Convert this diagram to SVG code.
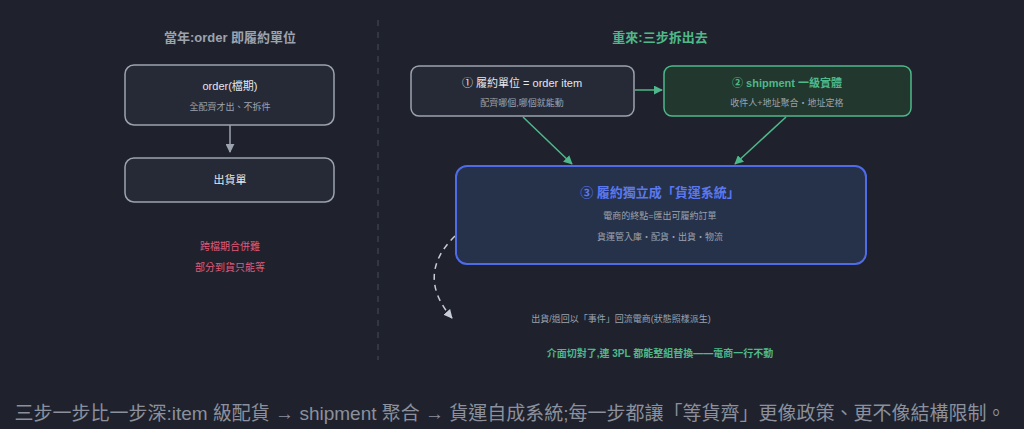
<svg xmlns="http://www.w3.org/2000/svg" width="1024" height="429" viewBox="0 0 1024 429">
<style>
text{font-family:"Liberation Sans","Noto Sans CJK TC",sans-serif;text-anchor:middle}
.t{font-size:11px;fill:#e5e7eb}
.s{font-size:9px;fill:#9ca3af}
.h{font-size:13px;font-weight:bold}
</style>
<defs>
<marker id="ag" viewBox="0 0 10 10" refX="9" refY="5" markerWidth="6" markerHeight="6" orient="auto"><path d="M0 0L10 5L0 10z" fill="#4fb88a"/></marker>
<marker id="aw" viewBox="0 0 10 10" refX="9" refY="5" markerWidth="6" markerHeight="6" orient="auto"><path d="M0 0L10 5L0 10z" fill="#9ca3af"/></marker>
<marker id="ad" viewBox="0 0 10 10" refX="9" refY="5" markerWidth="6" markerHeight="6" orient="auto"><path d="M0 0L10 5L0 10z" fill="#c8ccd4"/></marker>
</defs>
<rect width="1024" height="429" fill="#1f222d"/>
<line x1="378" y1="20" x2="378" y2="360" stroke="#3a3f4c" stroke-width="1.5" stroke-dasharray="6 6"/>
<text x="230" y="42" class="h" fill="#9ca3af">當年:order 即履約單位</text>
<text x="660" y="42" class="h" fill="#4fb88a">重來:三步拆出去</text>
<g id="connectors">
<line x1="230" y1="125" x2="230" y2="152" stroke="#9ca3af" stroke-width="1.5" marker-end="url(#aw)"/>
<line x1="635" y1="90" x2="662" y2="90" stroke="#4fb88a" stroke-width="1.5" marker-end="url(#ag)"/>
<line x1="523" y1="117" x2="572" y2="164" stroke="#4fb88a" stroke-width="1.5" marker-end="url(#ag)"/>
<line x1="786" y1="117" x2="735" y2="164" stroke="#4fb88a" stroke-width="1.5" marker-end="url(#ag)"/>
<path d="M455 236 Q415 275 452 318" fill="none" stroke="#c8ccd4" stroke-width="1.5" stroke-dasharray="6 5" marker-end="url(#ad)"/>
</g>
<g id="order"><rect x="125" y="65" width="209" height="60" rx="9" fill="#262a37" stroke="#9ca3af" stroke-width="1.5"/>
<text x="230" y="90" class="t">order(檔期)</text><text x="230" y="110" class="s">全配齊才出、不拆件</text></g>
<g id="ship-old"><rect x="125" y="158" width="209" height="44" rx="9" fill="#262a37" stroke="#9ca3af" stroke-width="1.5"/>
<text x="230" y="184" class="t">出貨單</text></g>
<g id="pain"><text x="230" y="250" font-size="10" fill="#e05a7a">跨檔期合併難</text><text x="230" y="271" font-size="10" fill="#e05a7a">部分到貨只能等</text></g>
<g id="step1"><rect x="411" y="66" width="223" height="50" rx="8" fill="#262a37" stroke="#9ca3af" stroke-width="1.5"/>
<text x="522" y="87" class="t">① 履約單位 = order item</text><text x="522" y="106" class="s">配齊哪個,哪個就能動</text></g>
<g id="step2"><rect x="664" y="66" width="247" height="50" rx="8" fill="#22372d" stroke="#4fb88a" stroke-width="1.5"/>
<text x="787" y="87" font-size="11" font-weight="bold" fill="#4fb88a">② shipment 一級實體</text><text x="787" y="106" class="s">收件人+地址聚合・地址定格</text></g>
<g id="step3"><rect x="456" y="166" width="410" height="98" rx="11" fill="#26324a" stroke="#4f6be8" stroke-width="2"/>
<text x="660" y="197" font-size="13" font-weight="bold" fill="#5b78f0">③ 履約獨立成「貨運系統」</text>
<text x="660" y="219" class="s">電商的終點=匯出可履約訂單</text><text x="660" y="240" class="s">貨運管入庫・配貨・出貨・物流</text></g>
<text x="621" y="322" class="s">出貨/退回以「事件」回流電商(狀態照樣派生)</text>
<text x="660" y="357" font-size="10" font-weight="bold" fill="#4fb88a">介面切對了,連 3PL 都能整組替換——電商一行不動</text>
<text x="510" y="420" font-size="19" fill="#8b909c">三步一步比一步深:item 級配貨 → shipment 聚合 → 貨運自成系統;每一步都讓「等貨齊」更像政策、更不像結構限制。</text>
</svg>
